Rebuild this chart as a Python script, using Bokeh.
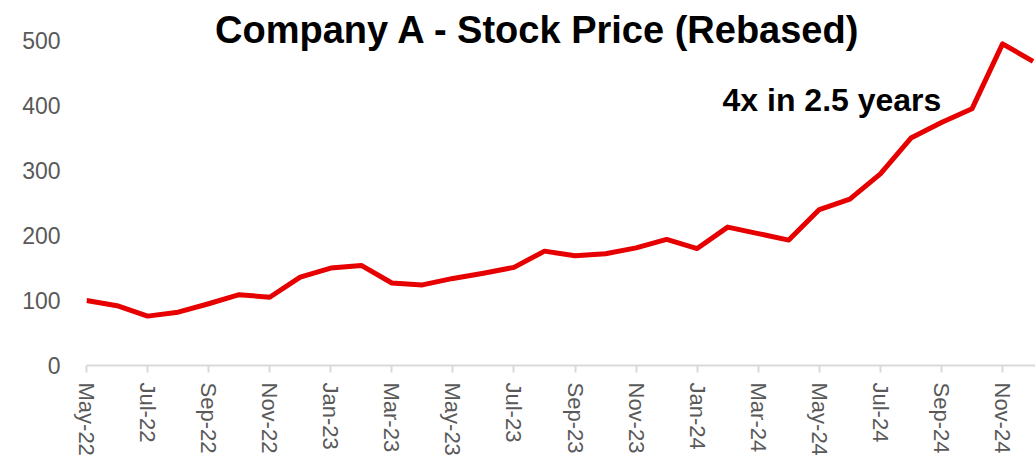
from bokeh.plotting import figure
from bokeh.models import Range1d, FixedTicker, Label
from bokeh.embed import file_html
from bokeh.resources import INLINE

months = ["May-22", "Jun-22", "Jul-22", "Aug-22", "Sep-22", "Oct-22", "Nov-22", "Dec-22",
          "Jan-23", "Feb-23", "Mar-23", "Apr-23", "May-23", "Jun-23", "Jul-23", "Aug-23",
          "Sep-23", "Oct-23", "Nov-23", "Dec-23", "Jan-24", "Feb-24", "Mar-24", "Apr-24",
          "May-24", "Jun-24", "Jul-24", "Aug-24", "Sep-24", "Oct-24", "Nov-24", "Dec-24"]
price = [100, 92, 76, 82, 95, 109, 105, 136,
         150, 154, 127, 124, 134, 142, 151, 176,
         169, 172, 181, 194, 180, 213, 203, 193,
         240, 256, 295, 350, 374, 395, 495, 468]
y_ticks = [0, 100, 200, 300, 400, 500]
title_text = "Company A - Stock Price (Rebased)"
note_text = "4x in 2.5 years"

x = list(range(len(months)))
tick_idx = x[::2][:16]

FONT = "Liberation Sans"

p = figure(width=1035, height=458, output_backend="svg", toolbar_location=None,
           x_range=Range1d(0, 31.08), y_range=Range1d(0, 561.7),
           min_border_left=86, min_border_right=0, min_border_top=0, min_border_bottom=0)
p.outline_line_color = None
p.xgrid.visible = False
p.ygrid.visible = False
p.background_fill_color = "white"
p.border_fill_color = "white"

p.line(x, price, line_color="#e60000", line_width=5, line_join="round")

xa = p.xaxis[0]
xa.ticker = FixedTicker(ticks=tick_idx)
xa.major_label_overrides = {i: months[i] for i in tick_idx}
xa.major_label_orientation = "vertical"
xa.axis_line_color = "#d9d9d9"
xa.axis_line_width = 2
xa.major_tick_line_color = "#d9d9d9"
xa.major_tick_line_width = 2
xa.major_tick_out = 7
xa.major_tick_in = 0
xa.minor_tick_line_color = None
xa.major_label_standoff = 10
xa.major_label_text_font = FONT
xa.major_label_text_font_size = "22px"
xa.major_label_text_color = "#595959"

ya = p.yaxis[0]
ya.ticker = FixedTicker(ticks=y_ticks)
ya.axis_line_color = None
ya.major_tick_line_color = None
ya.minor_tick_line_color = None
ya.major_label_standoff = 20
ya.major_label_text_font = FONT
ya.major_label_text_font_size = "23px"
ya.major_label_text_color = "#595959"

p.add_layout(Label(x=14.79, y=517, text=title_text, text_align="center",
                   text_baseline="alphabetic", text_font=FONT, text_font_size="38px",
                   text_font_style="bold", text_color="black"))
p.add_layout(Label(x=20.83, y=409, text=note_text, text_align="left",
                   text_baseline="alphabetic", text_font=FONT, text_font_size="32px",
                   text_font_style="bold", text_color="black"))

open("out.html", "w").write(file_html(p, INLINE))
